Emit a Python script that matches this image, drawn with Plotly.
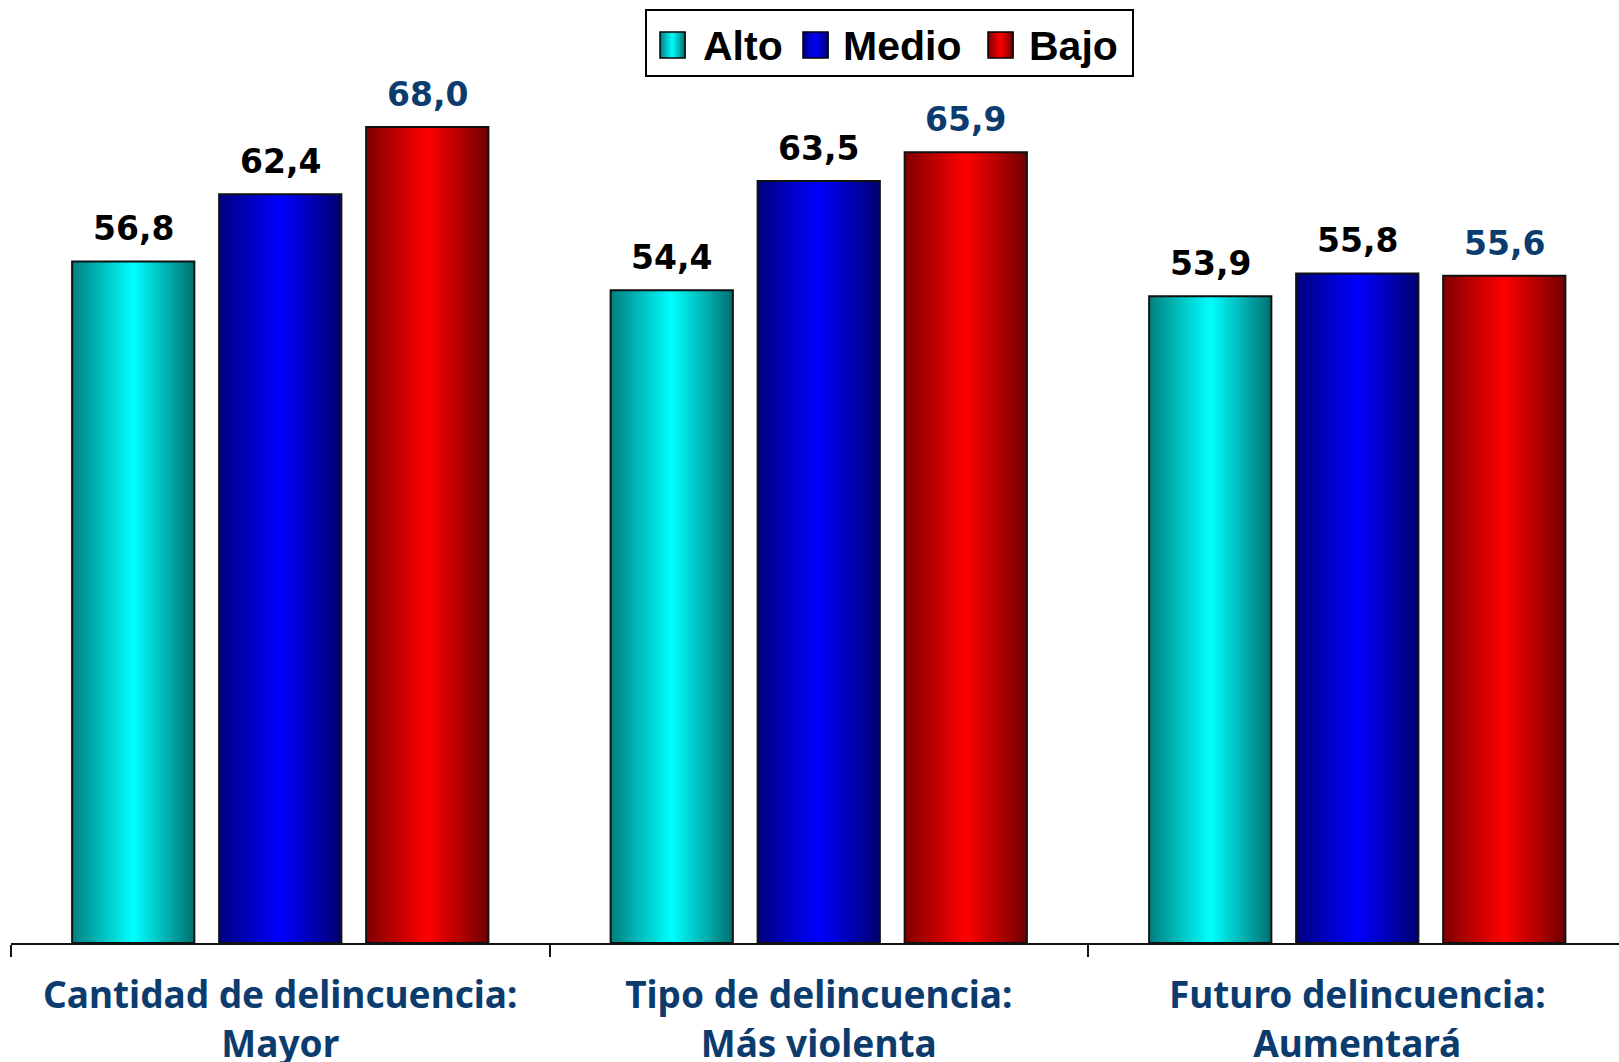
import plotly.graph_objects as go

categories = ["Cantidad de delincuencia:<br>Mayor",
              "Tipo de delincuencia:<br>Más violenta",
              "Futuro delincuencia:<br>Aumentará"]
series = ["Alto", "Medio", "Bajo"]
alto = [56.8, 54.4, 53.9]
medio = [62.4, 63.5, 55.8]
bajo = [68.0, 65.9, 55.6]
values = [alto, medio, bajo]

base_colors = [(0, 255, 255), (0, 0, 255), (255, 0, 0)]
label_colors = ["#000000", "#000000", "#0c3c6e"]
NAVY = "#0c3c6e"

W, H = 1619, 1062
ML, MR, MT, MB = 11, 0, 7, 119
PW, PH = W - ML - MR, H - MT - MB
XR = [-0.5, -0.5 + PW / 538.5]
YR = [0, PH / 12.0]

BAR_W = 0.227
SPACING = 0.273
N = 36


def shade(rgb, t):
    # bright in the middle, dark at the edges
    if t <= 0.5:
        f = 0.5 + 0.5 * (t / 0.5)
    else:
        f = 1.0 - 0.56 * ((t - 0.5) / 0.5)
    return "rgb(%d,%d,%d)" % tuple(round(c * f) for c in rgb)


def fmt(v):
    return ("%.1f" % v).replace(".", ",")


fig = go.Figure()
annotations = []
for s, (name, vals) in enumerate(zip(series, values)):
    center = (s - 1) * SPACING
    left = center - BAR_W / 2
    w = BAR_W / N
    for i in range(N):
        t = (i + 0.5) / N
        fig.add_trace(go.Bar(
            x=categories, y=vals, offset=left + i * w,
            width=w * (1.7 if i < N - 1 else 1.0),
            marker=dict(color=shade(base_colors[s], t), line=dict(width=0)),
            showlegend=False, hoverinfo="skip"))
    fig.add_trace(go.Bar(
        x=categories, y=vals, offset=left, width=BAR_W, name=name,
        marker=dict(color="rgba(0,0,0,0)", line=dict(color="#111111", width=2)),
        showlegend=False))
    for j, v in enumerate(vals):
        annotations.append(dict(
            x=j + center, y=v, xref="x", yref="y", text=fmt(v),
            xanchor="center", yanchor="bottom", yshift=11, showarrow=False,
            font=dict(family="DejaVu Sans", size=33, color=label_colors[s], weight="bold")))


def px(x):
    return (x - ML) / PW


def py(y):
    return (H - MB - y) / PH


shapes = [dict(type="rect", xref="paper", yref="paper",
               x0=px(646), x1=px(1133), y0=py(76), y1=py(10),
               line=dict(color="black", width=2), fillcolor="white")]
sq_x = [660, 803, 988]
tx_x = [701, 841, 1027]
for s, name in enumerate(series):
    n = 10
    for i in range(n):
        t = (i + 0.5) / n
        x0 = sq_x[s] + i * 25 / n
        shapes.append(dict(type="rect", xref="paper", yref="paper",
                           x0=px(x0), x1=px(x0 + 25 / n + 0.6), y0=py(58), y1=py(32),
                           line=dict(width=0), fillcolor=shade(base_colors[s], t)))
    shapes.append(dict(type="rect", xref="paper", yref="paper",
                       x0=px(sq_x[s]), x1=px(sq_x[s] + 25), y0=py(58), y1=py(32),
                       line=dict(color="black", width=1.5), fillcolor="rgba(0,0,0,0)"))
    annotations.append(dict(text=name, xref="paper", yref="paper",
                            x=px(tx_x[s]), y=py(46), xanchor="left", yanchor="middle",
                            showarrow=False,
                            font=dict(family="Liberation Sans", size=41, color="black", weight="bold")))

fig.update_layout(
    width=W, height=H,
    margin=dict(l=ML, r=MR, t=MT, b=MB, pad=0),
    paper_bgcolor="white", plot_bgcolor="white",
    barmode="overlay",
    showlegend=False,
    xaxis=dict(type="category", range=XR, showgrid=False, zeroline=False,
               showline=True, linecolor="#111111", linewidth=2,
               ticks="outside", tickson="boundaries", ticklen=12, tickwidth=2, tickcolor="#111111",
               tickfont=dict(family="Noto Sans", size=37, color=NAVY, weight="bold"),
               ticklabelstandoff=19, automargin=False),
    yaxis=dict(range=YR, visible=False, showgrid=False, zeroline=False),
    shapes=shapes, annotations=annotations,
)

fig.write_html("out.html", config={"displayModeBar": False},
               post_script="document.body.style.margin='0';")
